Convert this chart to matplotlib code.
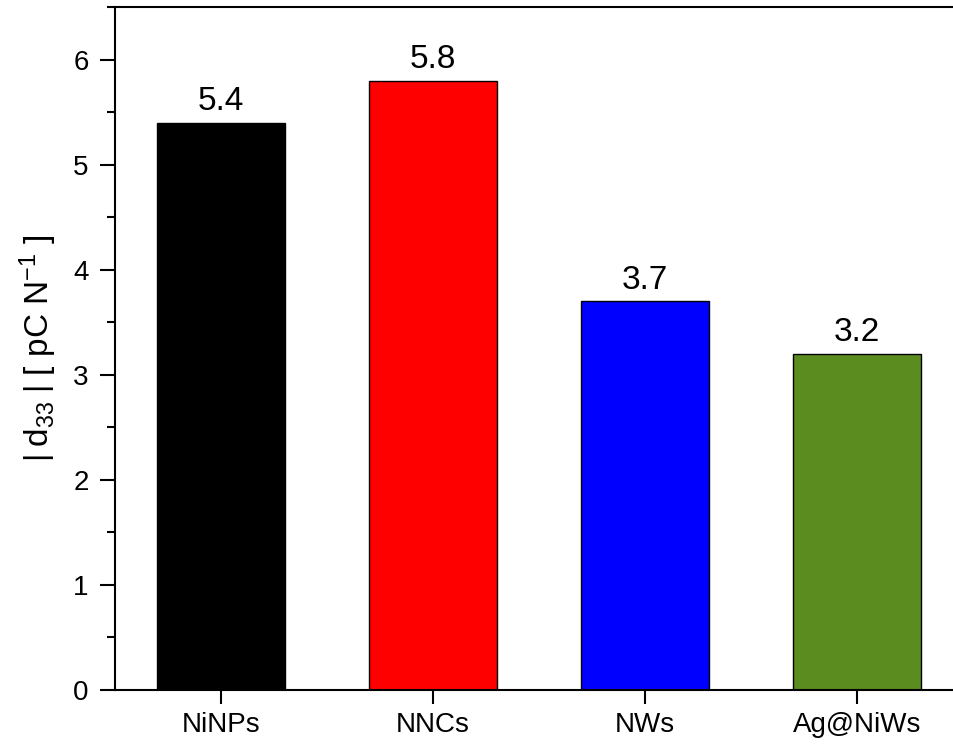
import matplotlib.pyplot as plt
import numpy as np
from matplotlib.ticker import MultipleLocator

# data
categories = ["NiNPs", "NNCs", "NWs", "Ag@NiWs"]
d33_values = [5.4, 5.8, 3.7, 3.2]
bar_colors = ["#000000", "#ff0000", "#0000ff", "#5b8c1f"]

plt.rcParams['font.family'] = ['Liberation Sans', 'DejaVu Sans']
plt.rcParams['mathtext.fontset'] = 'custom'
plt.rcParams['mathtext.rm'] = 'Liberation Sans'
plt.rcParams['mathtext.it'] = 'Liberation Sans'

fig = plt.figure(figsize=(9.54, 7.47), dpi=100)
# axes runs a little past the right edge, as in the cropped original
ax = fig.add_axes([115 / 954, 57 / 747, 848 / 954, 683 / 747])

x = np.arange(1, len(categories) + 1)
bars = ax.bar(x, d33_values, width=0.6, color=bar_colors, edgecolor='black', linewidth=1)

for xi, v in zip(x, d33_values):
    ax.text(xi, v + 0.05, f"{v:.1f}", ha='center', va='bottom', fontsize=24)

ax.set_xlim(0.5, 4.5)
ax.set_ylim(0, 6.5)
ax.set_xticks(x)
ax.set_xticklabels(categories)
ax.yaxis.set_major_locator(MultipleLocator(1))
ax.yaxis.set_minor_locator(MultipleLocator(0.5))

ax.tick_params(axis='y', which='major', direction='out', length=11, width=1.5, labelsize=20, pad=8)
ax.tick_params(axis='y', which='minor', direction='out', length=6, width=1.5)
ax.tick_params(axis='x', which='major', direction='out', length=10, width=1.5, labelsize=20, pad=6)
ax.tick_params(axis='x', which='minor', bottom=False)

for s in ax.spines.values():
    s.set_linewidth(1.5)

ax.set_ylabel(r'$\left|\;\mathregular{d}_{33}\;\right|$ [ pC N$^{-1}$ ]', fontsize=24, labelpad=10)

plt.savefig('out.png', dpi=100)
